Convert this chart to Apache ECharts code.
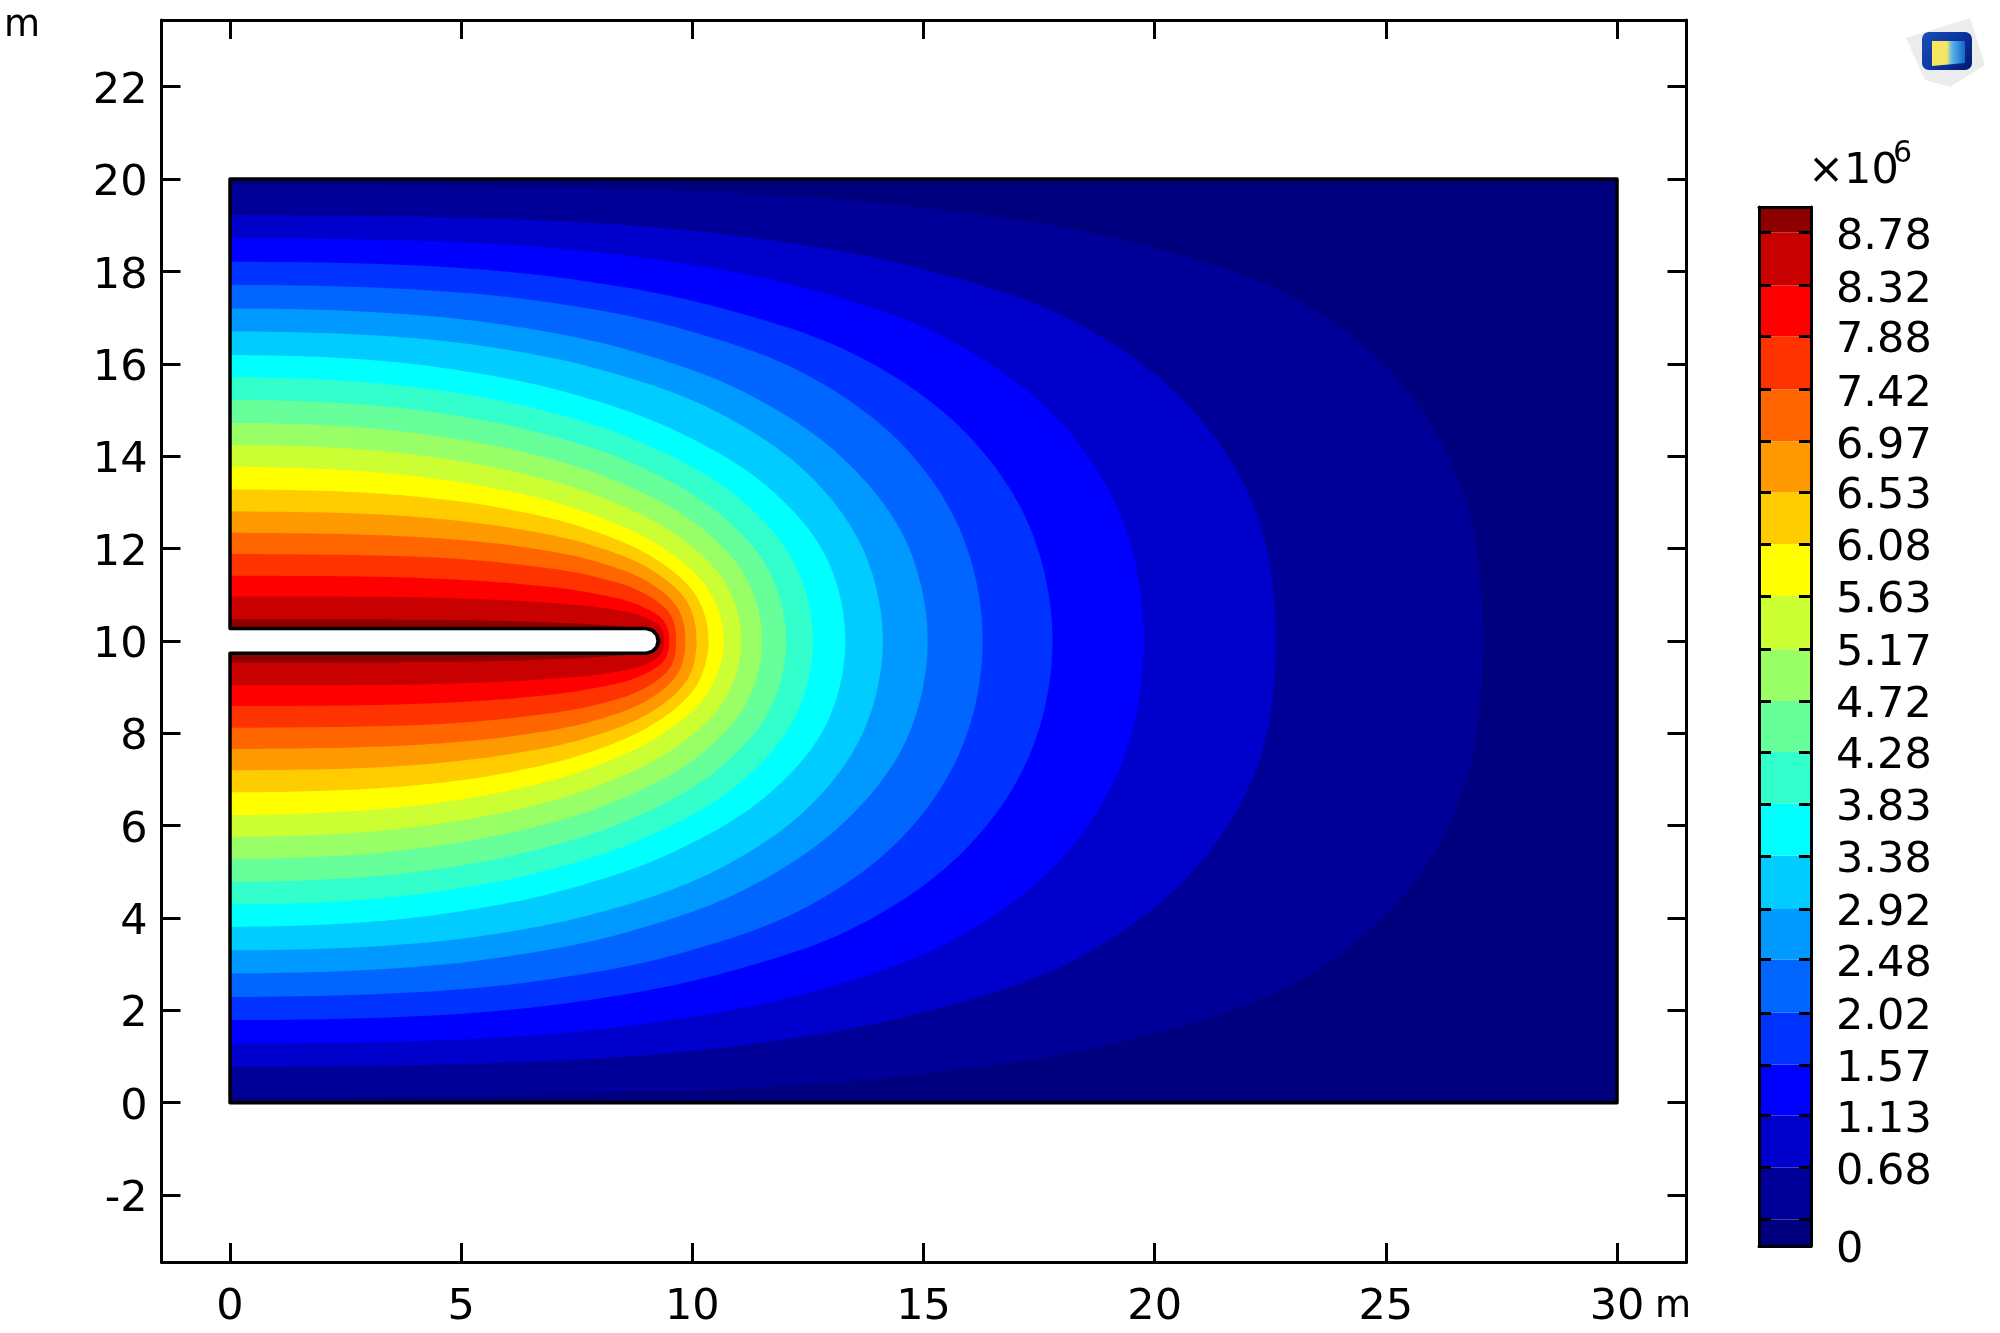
<!DOCTYPE html>
<html>
<head>
<meta charset="utf-8">
<style>html,body{margin:0;padding:0;background:#fff}#c{width:2000px;height:1333px}</style>
<script src="https://cdn.jsdelivr.net/npm/echarts@6/dist/echarts.min.js"></script>
</head>
<body>
<div id="c"></div>
<script>
// Axis ticks
const xTicks = [0, 5, 10, 15, 20, 25, 30];
const yTicks = [-2, 0, 2, 4, 6, 8, 10, 12, 14, 16, 18, 20, 22];
// Colour bar
const levels = [0.23, 0.68, 1.13, 1.57, 2.02, 2.48, 2.92, 3.38, 3.83, 4.28, 4.72, 5.17, 5.63, 6.08, 6.53, 6.97, 7.42, 7.88, 8.32, 8.78];
const levelLabels = [0, 0.68, 1.13, 1.57, 2.02, 2.48, 2.92, 3.38, 3.83, 4.28, 4.72, 5.17, 5.63, 6.08, 6.53, 6.97, 7.42, 7.88, 8.32, 8.78];
const barMax = 9.0;
const bandColors = ['#00007f', '#000099', '#0000cc', '#0000ff', '#0033ff', '#0066ff', '#0099ff', '#00ccff', '#00ffff', '#33ffcc', '#66ff99', '#99ff66', '#ccff33', '#ffff00', '#ffcc00', '#ff9900', '#ff6600', '#ff3300', '#ff0000', '#c80000', '#8e0000'];
// Domain: plate with a round-tipped slit
const domain = [[0,0],[30,0],[30,20],[0,20],[0,10.27],[8.99,10.27],[9.13,10.23],[9.23,10.13],[9.26,10],[9.23,9.87],[9.13,9.77],[8.99,9.73],[0,9.73]];
const slit = [[0,10.27],[8.99,10.27],[9.13,10.23],[9.23,10.13],[9.26,10],[9.23,9.87],[9.13,9.77],[8.99,9.73],[0,9.73]];
// Upper half of each iso-line (x, y in m); the field is symmetric about y=10
const c023 = [[0,19.87],[10.40,19.72],[15.01,19.38],[19.26,18.69],[23.05,17.40],[25.45,15.43],[26.75,12.96],[27.09,10]];
const c068 = [[0,19.22],[7.26,19.08],[11.04,18.76],[14.73,18.11],[18.25,16.92],[20.75,15.07],[22.20,12.77],[22.62,10]];
const c113 = [[0,18.72],[5.81,18.59],[9.05,18.28],[12.31,17.67],[15.52,16.54],[17.90,14.80],[19.30,12.62],[19.76,10]];
const c157 = [[0,18.21],[4.75,18.09],[7.61,17.80],[10.58,17.22],[13.60,16.16],[15.90,14.52],[17.30,12.46],[17.79,10]];
const c202 = [[0,17.71],[4.35,17.59],[6.97,17.32],[9.69,16.78],[12.44,15.78],[14.55,14.24],[15.83,12.31],[16.28,10]];
const c248 = [[0,17.20],[3.61,17.09],[5.96,16.84],[8.47,16.34],[11.10,15.40],[13.25,13.96],[14.62,12.16],[15.09,10]];
const c292 = [[0,16.70],[3.37,16.60],[5.58,16.37],[7.92,15.90],[10.39,15.03],[12.42,13.69],[13.68,12.01],[14.12,10]];
const c338 = [[0,16.19],[2.81,16.10],[4.82,15.88],[7.03,15.45],[9.44,14.64],[11.55,13.40],[12.87,11.86],[13.31,10]];
const c383 = [[0,15.71],[2.66,15.62],[4.56,15.42],[6.66,15.02],[8.94,14.28],[10.95,13.14],[12.19,11.71],[12.61,10]];
const c428 = [[0,15.22],[2.54,15.14],[4.35,14.96],[6.35,14.59],[8.53,13.92],[10.44,12.87],[11.63,11.57],[12.03,10]];
const c472 = [[0,14.72],[2.43,14.65],[4.17,14.48],[6.08,14.15],[8.16,13.54],[9.99,12.60],[11.13,11.42],[11.51,10]];
const c517 = [[0,14.24],[2.33,14.18],[4.00,14.03],[5.84,13.73],[7.84,13.18],[9.60,12.33],[10.70,11.27],[11.06,10]];
const c563 = [[0,13.77],[2.25,13.71],[3.87,13.58],[5.64,13.32],[7.57,12.83],[9.27,12.07],[10.33,11.13],[10.68,10]];
const c608 = [[0,13.28],[2.47,13.23],[4.09,13.12],[5.81,12.89],[7.63,12.46],[9.16,11.80],[10.08,10.98],[10.35,10]];
const c653 = [[0,12.80],[2.69,12.76],[4.32,12.66],[6.00,12.46],[7.73,12.10],[9.11,11.54],[9.89,10.84],[10.09,10]];
const c697 = [[0,12.34],[2.90,12.30],[4.51,12.22],[6.14,12.06],[7.76,11.76],[9.02,11.29],[9.69,10.70],[9.85,10]];
const c742 = [[0,11.88],[3.10,11.85],[4.71,11.79],[6.28,11.65],[7.81,11.41],[8.96,11.03],[9.53,10.56],[9.65,10]];
const c788 = [[0,11.41],[3.05,11.39],[4.64,11.34],[6.18,11.24],[7.69,11.06],[8.83,10.78],[9.39,10.42],[9.50,10]];
const c832 = [[0,10.96],[3.61,10.95],[5.20,10.91],[6.68,10.84],[8.01,10.72],[8.93,10.53],[9.32,10.29],[9.39,10]];
const c878 = [[0,10.47],[3.58,10.46],[5.17,10.45],[6.63,10.41],[7.96,10.35],[8.87,10.26],[9.26,10.14],[9.33,10]];
const isoLines = [c023,c068,c113,c157,c202,c248,c292,c338,c383,c428,c472,c517,c563,c608,c653,c697,c742,c788,c832,c878];

const FONT = '"DejaVu Sans"';
const BLACK = '#000';

// Smooth a polyline of pixel points (centripetal Catmull-Rom); both ends leave the left edge flat
function spline(pts, n) {
  const out = [];
  const d = (a, b) => Math.max(1e-3, Math.pow(Math.hypot(a[0]-b[0], a[1]-b[1]), 0.5));
  for (let i = 0; i < pts.length - 1; i++) {
    const p1 = pts[i], p2 = pts[i+1];
    const p0 = pts[i-1] || [2*p1[0]-p2[0], p2[1]];
    const p3 = pts[i+2] || [2*p2[0]-p1[0], p1[1]];
    const t0 = 0, t1 = t0 + d(p0,p1), t2 = t1 + d(p1,p2), t3 = t2 + d(p2,p3);
    for (let k = 0; k < n; k++) {
      const t = t1 + (t2-t1)*k/n;
      const lerp = (a,b,ta,tb) => [(tb-t)/(tb-ta)*a[0]+(t-ta)/(tb-ta)*b[0], (tb-t)/(tb-ta)*a[1]+(t-ta)/(tb-ta)*b[1]];
      const A1 = lerp(p0,p1,t0,t1), A2 = lerp(p1,p2,t1,t2), A3 = lerp(p2,p3,t2,t3);
      const B1 = lerp(A1,A2,t0,t2), B2 = lerp(A2,A3,t1,t3);
      out.push(lerp(B1,B2,t1,t2));
    }
  }
  out.push(pts[pts.length-1]);
  return out;
}

function renderPlate(params, api) {
  const i = params.dataIndex;
  if (i === 0) { // base band
    const p = [[0,0],[30,0],[30,20],[0,20]].map(q => api.coord(q));
    return {type:'polygon', shape:{points:p}, style:{fill:bandColors[0]}, silent:true};
  }
  const up = isoLines[i-1];
  const low = up.slice(0,-1).reverse().map(q => [q[0], 20-q[1]]);
  const px = up.concat(low).map(q => api.coord(q));
  return {type:'polygon', shape:{points:spline(px, 12)}, style:{fill:bandColors[i]}, silent:true};
}

const chart = echarts.init(document.getElementById('c'), null, {renderer:'canvas', width:2000, height:1333});

const lbl = {fontFamily:FONT, fontSize:43, color:BLACK};
const line = {show:true, onZero:false, lineStyle:{color:BLACK, width:3}};

chart.setOption({
  animation:false,
  backgroundColor:'#fff',
  grid:[
    {left:161.5, top:20, width:1525, height:1242},
    {left:1759, top:207, width:52, height:1039}
  ],
  xAxis:[
    {gridIndex:0, type:'value', position:'bottom', min:-1.482, max:31.503, axisLine:line, splitLine:{show:false}, z:10,
     axisTick:{show:true, inside:true, length:19, lineStyle:{color:BLACK,width:3}, customValues:xTicks},
     axisLabel:Object.assign({show:true, margin:24, customValues:xTicks, showMinLabel:true, showMaxLabel:true}, lbl)},
    {gridIndex:0, type:'value', position:'top', min:-1.482, max:31.503, axisLine:line, splitLine:{show:false}, z:10,
     axisTick:{show:true, inside:true, length:19, lineStyle:{color:BLACK,width:3}, customValues:xTicks},
     axisLabel:{show:false}},
    {gridIndex:1, type:'value', position:'bottom', min:0, max:1, axisLine:line, splitLine:{show:false}, axisTick:{show:false}, axisLabel:{show:false}, z:10},
    {gridIndex:1, type:'value', position:'top', min:0, max:1, axisLine:line, splitLine:{show:false}, axisTick:{show:false}, axisLabel:{show:false}, z:10}
  ],
  yAxis:[
    {gridIndex:0, type:'value', position:'left', min:-3.45, max:23.445, axisLine:line, splitLine:{show:false}, z:10,
     axisTick:{show:true, inside:true, length:19, lineStyle:{color:BLACK,width:3}, customValues:yTicks},
     axisLabel:Object.assign({show:true, margin:14, verticalAlign:'top', lineHeight:10, customValues:yTicks}, lbl)},
    {gridIndex:0, type:'value', position:'right', min:-3.45, max:23.445, axisLine:line, splitLine:{show:false}, z:10,
     axisTick:{show:true, inside:true, length:19, lineStyle:{color:BLACK,width:3}, customValues:yTicks},
     axisLabel:{show:false}},
    {gridIndex:1, type:'value', position:'left', min:0, max:barMax, axisLine:line, splitLine:{show:false}, z:10,
     axisTick:{show:true, inside:true, length:12, lineStyle:{color:BLACK,width:3}, customValues:levels},
     axisLabel:{show:false}},
    {gridIndex:1, type:'value', position:'right', min:0, max:barMax, axisLine:line, splitLine:{show:false}, z:10,
     axisTick:{show:true, inside:true, length:12, lineStyle:{color:BLACK,width:3}, customValues:levels},
     axisLabel:Object.assign({show:true, margin:25, verticalAlign:'top', lineHeight:10, customValues:levelLabels, formatter:v => v === 0 ? '0' : v.toFixed(2)}, lbl)}
  ],
  series:[
    {type:'custom', name:'contours', xAxisIndex:0, yAxisIndex:0, z:2, silent:true, clip:false,
     data:bandColors.map((c,i) => [15, 10, i]), renderItem:renderPlate},
    {type:'custom', name:'domain', xAxisIndex:0, yAxisIndex:0, z:3, silent:true, clip:false,
     data:[[15,10]],
     renderItem:(p, api) => ({type:'group', children:[
       {type:'polygon', shape:{points:slit.map(q => api.coord(q))}, style:{fill:'#fff'}},
       {type:'polygon', shape:{points:domain.map(q => api.coord(q))}, style:{fill:'none', stroke:BLACK, lineWidth:3.5, lineJoin:'round'}}
     ]})},
    {type:'custom', name:'colorbar', xAxisIndex:2, yAxisIndex:2, z:2, silent:true, clip:false,
     data:bandColors.map((c,i) => [0.5, 0, i]),
     renderItem:(p, api) => {
       const i = p.dataIndex;
       const lo = i === 0 ? 0 : levels[i-1];
       const hi = i === levels.length ? barMax : levels[i];
       const a = api.coord([0, hi]), b = api.coord([1, lo]);
       return {type:'rect', shape:{x:a[0], y:a[1], width:b[0]-a[0], height:b[1]-a[1]}, style:{fill:bandColors[i]}};
     }}
  ],
  graphic:[
    {type:'text', left:4, top:8, z:20, style:{text:'m', font:'37px "DejaVu Sans"', fill:BLACK}},
    {type:'text', left:1655, top:1289, z:20, style:{text:'m', font:'37px "DejaVu Sans"', fill:BLACK}},
    {type:'text', left:1808, top:150, z:20, style:{text:'×10', font:'43px "DejaVu Sans"', fill:BLACK}},
    {type:'text', left:1893, top:139, z:20, style:{text:'6', font:'30px "DejaVu Sans"', fill:BLACK}},
    // view-cube icon
    {type:'polygon', z:20, silent:true, shape:{points:[[1906,38],[1970,18],[1985,65],[1950,87],[1925,80]]}, style:{fill:'#ececec'}},
    {type:'rect', z:21, silent:true, shape:{x:1922, y:32, width:50, height:38, r:7},
     style:{fill:new echarts.graphic.LinearGradient(0,0,1,1,[{offset:0,color:'#1a4fb8'},{offset:0.6,color:'#0a2f9c'},{offset:1,color:'#02186a'}])}},
    {type:'polygon', z:22, silent:true, shape:{points:[[1932,41],[1965,41],[1965,63],[1932,66]]},
     style:{fill:new echarts.graphic.LinearGradient(0,0,1,0,[{offset:0,color:'#f7e85a'},{offset:0.45,color:'#f2e66a'},{offset:0.6,color:'#58b6e8'},{offset:1,color:'#1566c8'}])}}
  ]
});
</script>
</body>
</html>
